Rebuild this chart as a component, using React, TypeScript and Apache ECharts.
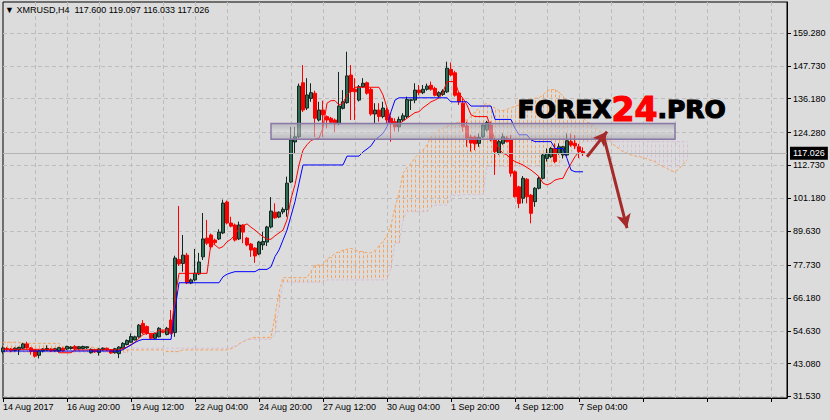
import React, { useEffect, useRef } from 'react';
import * as echarts from 'echarts';

const xTickLabels = ['14 Aug 2017', '16 Aug 20:00', '19 Aug 12:00', '22 Aug 04:00', '24 Aug 20:00', '27 Aug 12:00', '30 Aug 04:00', '1 Sep 20:00', '4 Sep 12:00', '7 Sep 04:00'];
const yTickValues = [31.53, 43.08, 54.63, 66.18, 77.73, 89.63, 101.18, 112.73, 124.28, 136.18, 147.73, 159.28];
const titleText = '\u25BC XMRUSD,H4  117.600 119.097 116.033 117.026';
const lastPrice = 117.026;

// [open, close, low, high]
const candles: number[][] = [
  [47.2, 48.6, 46.5, 49.2], [48.4, 48.0, 47.4, 48.9], [48.2, 47.6, 47.1, 48.6], [47.7, 48.5, 47.3, 48.8], [47.9, 48.8, 46.1, 49.0],
  [48.5, 50.0, 48.2, 50.4], [50.0, 48.6, 48.3, 50.8], [48.6, 47.4, 46.2, 48.9], [47.9, 45.7, 45.2, 48.2], [46.0, 47.6, 44.9, 48.0],
  [47.5, 48.2, 47.0, 48.5], [47.8, 48.4, 47.5, 49.5], [48.2, 47.5, 47.2, 48.5], [47.6, 48.3, 47.3, 48.6], [47.5, 48.7, 47.2, 49.0],
  [48.5, 47.6, 47.3, 48.8], [48.2, 49.1, 47.9, 49.4], [48.4, 48.9, 48.0, 49.2], [49.1, 48.2, 47.8, 49.6], [48.3, 49.0, 48.0, 49.3],
  [48.4, 49.1, 48.1, 49.4], [48.6, 49.0, 48.3, 49.2], [46.9, 48.1, 46.6, 48.4], [48.0, 47.2, 46.9, 48.3], [47.0, 48.2, 45.9, 48.5],
  [48.0, 48.5, 47.6, 48.8], [48.5, 47.9, 47.5, 48.7], [48.0, 46.8, 46.5, 48.2], [46.9, 48.3, 46.6, 48.6], [46.6, 48.9, 45.0, 49.2],
  [48.5, 50.2, 48.2, 50.6], [49.8, 51.2, 49.5, 51.6], [50.6, 52.6, 50.4, 53.7], [51.4, 52.5, 51.2, 52.9], [52.5, 56.6, 52.2, 57.0],
  [57.2, 53.9, 53.5, 58.4], [56.1, 53.7, 53.2, 56.5], [53.4, 52.0, 51.7, 53.7], [52.0, 53.7, 51.8, 54.0], [52.5, 55.5, 52.3, 55.9],
  [54.5, 54.1, 53.8, 54.8], [53.3, 55.5, 53.0, 56.0], [58.4, 53.7, 53.3, 61.9], [54.0, 80.2, 52.5, 81.0], [79.7, 78.1, 77.4, 98.5],
  [78.3, 81.2, 75.4, 88.3], [81.2, 71.4, 71.0, 82.0], [71.4, 72.5, 71.0, 73.0], [72.5, 74.9, 72.0, 83.4], [74.6, 78.8, 74.2, 82.0],
  [80.6, 86.9, 79.5, 96.0], [87.2, 85.4, 84.8, 93.6], [88.3, 84.1, 83.3, 88.8], [86.5, 85.6, 85.0, 87.0], [86.9, 89.3, 86.5, 90.3],
  [89.0, 99.5, 88.6, 100.7], [99.9, 92.5, 92.0, 100.4], [92.5, 91.4, 91.0, 94.7], [91.8, 86.5, 86.0, 92.3], [86.9, 91.8, 86.5, 93.0],
  [91.8, 89.3, 85.4, 92.1], [87.2, 84.8, 84.3, 87.6], [85.1, 83.0, 80.6, 85.5], [83.7, 80.9, 78.5, 84.0], [81.6, 85.8, 81.2, 86.2],
  [84.8, 86.0, 83.0, 89.4], [85.8, 91.1, 84.4, 91.5], [91.1, 96.7, 90.6, 101.6], [96.3, 94.3, 94.0, 99.4], [94.6, 96.3, 94.2, 96.6],
  [96.4, 97.3, 95.6, 98.0], [97.2, 106.5, 94.7, 108.8], [106.9, 121.7, 106.5, 126.3], [121.0, 122.8, 116.9, 126.3], [122.8, 140.6, 122.3, 141.5],
  [141.8, 132.2, 131.5, 148.0], [132.9, 137.5, 132.2, 143.4], [136.3, 138.3, 135.1, 141.6], [138.1, 129.3, 122.8, 139.0], [128.7, 132.2, 128.2, 135.1],
  [132.2, 130.5, 122.8, 135.5], [129.9, 128.7, 125.8, 130.3], [129.3, 127.9, 127.5, 129.8], [128.7, 127.3, 124.5, 129.2], [127.4, 133.6, 126.9, 145.6],
  [132.8, 135.1, 132.4, 139.2], [134.8, 144.2, 134.4, 152.7], [144.5, 138.7, 128.7, 148.0], [139.5, 138.6, 128.7, 143.4], [135.7, 140.4, 135.2, 141.0],
  [140.4, 141.6, 140.0, 143.4], [141.8, 138.1, 137.6, 142.2], [139.5, 130.8, 130.2, 140.0], [130.8, 132.2, 127.5, 134.6], [132.2, 129.9, 128.1, 134.6],
  [129.9, 132.9, 129.3, 135.1], [132.2, 128.7, 127.5, 133.0], [129.3, 127.6, 121.1, 129.9], [128.1, 126.3, 124.6, 129.3], [126.3, 128.9, 124.6, 129.9],
  [128.7, 130.2, 128.1, 131.1], [129.9, 135.9, 129.3, 136.9], [135.6, 135.8, 132.2, 135.9], [135.7, 139.2, 134.6, 141.6], [139.2, 138.3, 137.4, 141.0],
  [138.3, 139.5, 137.8, 141.0], [139.5, 140.6, 139.0, 141.5], [140.9, 139.5, 139.0, 142.2], [139.8, 137.4, 137.0, 140.4], [137.1, 138.3, 136.6, 138.8],
  [137.7, 138.9, 137.2, 139.5], [138.6, 146.9, 138.2, 149.2], [146.5, 144.5, 144.0, 148.9], [145.3, 137.4, 136.9, 146.0], [138.2, 135.1, 134.0, 138.6],
  [134.6, 126.3, 124.6, 136.3], [126.6, 122.4, 119.3, 128.1], [122.7, 120.6, 117.6, 123.5], [122.7, 120.3, 118.1, 123.2], [120.5, 122.6, 119.3, 124.0],
  [122.8, 126.9, 122.3, 127.5], [125.2, 127.8, 124.6, 128.4], [126.9, 121.7, 121.2, 128.1], [121.7, 117.6, 109.4, 122.3], [117.0, 121.1, 116.5, 121.7],
  [120.5, 122.8, 120.0, 124.0], [122.3, 121.1, 120.8, 123.0], [121.7, 110.0, 108.8, 123.4], [110.5, 101.7, 101.5, 111.0], [105.2, 99.4, 97.7, 105.6],
  [101.2, 108.2, 99.4, 109.0], [107.9, 101.7, 99.4, 108.3], [102.3, 95.9, 92.4, 102.7], [100.0, 104.7, 98.2, 105.1], [104.7, 108.2, 104.3, 108.8],
  [108.2, 116.4, 107.8, 117.0], [115.2, 117.0, 114.1, 118.7], [115.8, 118.7, 115.3, 119.2], [118.7, 114.1, 113.5, 120.5], [117.0, 119.3, 116.5, 120.5],
  [116.4, 119.3, 115.2, 119.6], [116.4, 121.4, 115.9, 124.0], [121.1, 119.9, 119.3, 124.0], [120.5, 119.6, 118.5, 123.4], [119.3, 117.6, 115.3, 120.3],
  [117.6, 117.026, 116.033, 119.097],
];

const tenkan = [
  48.1, 48.1, 48.1, 48.1, 48.1, 48.1, 48.1, 48.1, 48.1, 48.1,
  48.1, 48.1, 48.1, 48.1, 46.9, 46.9, 46.9, 46.9, 47.9, 47.9,
  47.9, 47.9, 47.9, 47.9, 47.9, 47.9, 47.9, 47.9, 47.9, 47.9,
  48.4, 48.9, 49.8, 50.6, 52.0, 53.3, 53.7, 53.7, 53.7, 54.9,
  54.9, 54.9, 54.9, 66.0, 74.8, 74.8, 74.8, 74.8, 74.8, 74.8,
  74.8, 74.8, 85.5, 84.8, 83.6, 84.2, 85.9, 86.8, 88.3, 90.6,
  91.5, 92.2, 91.0, 90.0, 88.8, 87.7, 86.8, 86.8, 88.0, 89.0,
  90.0, 93.6, 101.0, 106.0, 112.9, 118.1, 120.0, 121.5, 122.0, 122.3,
  126.0, 134.6, 135.5, 135.5, 134.0, 134.6, 137.5, 139.0, 140.2, 140.2,
  140.2, 140.2, 140.2, 140.2, 140.2, 137.5, 133.0, 129.0, 127.5, 127.3,
  128.3, 129.3, 130.3, 131.3, 131.6, 133.0, 134.0, 135.1, 135.7, 136.5,
  138.5, 142.2, 142.2, 142.2, 138.0, 136.3, 134.0, 130.5, 129.9, 129.9,
  129.9, 129.9, 126.0, 121.5, 118.5, 117.0, 116.4, 115.0, 114.1, 113.5,
  112.9, 112.0, 111.1, 110.0, 108.8, 106.5, 105.9, 106.5, 107.6, 108.0,
  108.2, 111.1, 113.4, 115.8, 117.6, 118.0,
];

const kijun = [
  47.5, 47.5, 47.5, 47.5, 47.5, 47.5, 47.5, 47.5, 47.5, 47.5,
  47.5, 47.5, 47.5, 47.5, 47.5, 47.5, 47.5, 47.5, 47.5, 47.5,
  47.5, 47.5, 47.5, 47.5, 47.5, 47.5, 47.5, 47.5, 47.5, 47.5,
  48.0, 48.8, 49.6, 50.5, 51.2, 51.6, 51.6, 51.6, 51.6, 51.6,
  51.6, 51.6, 51.6, 62.0, 71.5, 71.5, 71.5, 71.5, 71.5, 71.5,
  71.5, 71.5, 71.5, 71.5, 71.5, 73.6, 74.5, 75.0, 75.4, 75.4,
  75.4, 75.4, 75.4, 75.4, 76.2, 76.2, 76.2, 77.1, 80.7, 83.0,
  86.5, 90.0, 95.0, 100.0, 106.5, 112.9, 112.9, 112.9, 112.9, 112.9,
  112.9, 112.9, 112.9, 112.9, 112.9, 112.9, 116.0, 116.0, 116.0, 116.0,
  117.5, 118.5, 119.6, 121.7, 122.8, 124.0, 126.3, 131.6, 135.7, 136.5,
  136.5, 136.5, 136.5, 136.5, 136.5, 136.5, 136.5, 136.5, 136.5, 136.5,
  136.5, 136.5, 135.1, 135.1, 135.1, 135.1, 135.1, 133.6, 133.6, 133.6,
  133.6, 133.6, 133.6, 128.9, 128.9, 128.9, 128.9, 128.9, 125.8, 123.5,
  123.5, 123.5, 121.7, 121.1, 121.1, 121.1, 121.1, 121.1, 118.7, 118.7,
  118.7, 115.2, 111.1, 110.5, 110.5, 110.5,
];

const spanA = [
  50.6, 50.6, 50.6, 50.6, 50.6, 50.2, 50.2, 50.2, 50.2, 50.2,
  50.2, 50.2, 50.2, 50.2, 50.2, 49.0, 49.0, 49.0, 49.0, 49.0,
  49.0, 49.0, 49.0, 48.5, 48.5, 48.5, 48.5, 47.9, 47.9, 47.9,
  47.9, 47.9, 47.9, 47.9, 47.9, 47.9, 47.9, 47.9, 47.9, 47.9,
  47.9, 47.3, 47.3, 47.3, 47.3, 47.9, 47.9, 47.9, 47.9, 47.9,
  47.9, 47.9, 47.9, 47.9, 47.9, 47.9, 47.9, 48.3, 49.0, 50.0,
  50.8, 51.4, 52.0, 52.3, 52.3, 52.3, 52.3, 52.3, 60.0, 68.0,
  73.3, 73.3, 73.3, 73.3, 73.3, 73.3, 73.3, 75.5, 77.7, 77.7,
  77.7, 80.0, 80.5, 81.9, 82.3, 83.0, 83.3, 83.6, 83.0, 82.5,
  82.5, 82.0, 82.0, 82.8, 84.5, 86.0, 88.0, 91.8, 98.0, 103.0,
  110.0, 112.0, 113.4, 115.5, 117.0, 118.1, 120.0, 122.8, 124.0, 125.2,
  125.8, 126.5, 127.0, 127.5, 128.0, 128.5, 128.7, 130.0, 131.6, 132.8,
  134.0, 134.5, 133.5, 133.0, 132.0, 132.0, 132.5, 133.0, 133.5, 134.0,
  134.5, 135.5, 136.0, 136.3, 136.5, 137.5, 139.0, 139.4, 139.4, 138.5,
  137.0, 135.0, 133.0, 131.0, 130.0, 129.5, 128.0, 127.5, 126.0, 125.0,
  124.6, 123.0, 121.0, 119.5, 118.7, 117.5, 117.0, 116.4, 116.0, 115.8,
  115.5, 115.0, 114.5, 114.1, 113.0, 112.3, 111.7, 110.8, 110.5, 111.5,
  113.0, 114.7,
];

const spanB = [
  47.0, 47.0, 47.0, 47.0, 47.0, 47.0, 47.0, 47.0, 47.0, 47.0,
  47.0, 47.0, 47.0, 47.0, 47.0, 47.0, 47.0, 47.0, 47.0, 47.0,
  47.0, 47.0, 47.0, 47.0, 47.0, 47.0, 47.0, 47.0, 47.0, 47.0,
  47.0, 47.0, 48.5, 48.5, 48.5, 48.5, 48.5, 48.5, 48.5, 48.5,
  48.5, 48.5, 48.5, 48.5, 48.5, 48.5, 48.5, 48.5, 48.5, 48.5,
  48.5, 48.5, 48.5, 48.5, 48.5, 48.5, 48.5, 48.8, 49.3, 49.6,
  50.9, 51.6, 51.6, 51.6, 51.6, 51.6, 51.6, 51.6, 53.4, 63.0,
  71.7, 71.7, 71.7, 71.7, 71.7, 71.7, 71.7, 71.7, 71.7, 71.7,
  71.7, 72.5, 72.5, 72.5, 72.5, 72.5, 72.5, 72.5, 72.5, 72.5,
  72.5, 72.5, 72.5, 72.5, 72.5, 72.5, 72.5, 76.5, 85.5, 85.5,
  93.2, 96.5, 96.5, 96.5, 96.5, 96.5, 96.5, 98.0, 98.8, 98.8,
  98.8, 98.8, 102.2, 102.2, 102.2, 102.5, 102.5, 102.5, 102.5, 102.5,
  102.5, 112.3, 112.3, 112.3, 112.3, 112.3, 112.3, 112.3, 112.3, 112.3,
  112.3, 112.3, 112.3, 112.3, 112.3, 112.3, 112.3, 112.3, 112.3, 112.3,
  115.6, 117.0, 117.4, 118.5, 120.0, 121.0, 121.1, 121.1, 121.1, 121.1,
  121.1, 121.1, 121.1, 121.1, 121.1, 121.1, 121.1, 121.1, 121.1, 121.1,
  121.1, 121.1, 121.1, 121.1, 121.1, 121.1, 121.1, 121.1, 121.1, 121.1,
  121.1, 121.1,
];

// annotations in data units: [barIndex, price]
const zoneBox = [[67, 127.5], [168, 121.9]];
const arrows = [
  [[146, 115.8], [151, 124.6]],
  [[150, 123.8], [156, 90.7]],
];

const BAR_SLOTS = 197;
const categories = Array.from({ length: BAR_SLOTS }, (_, i) => String(i));
const FONT = 'Liberation Sans';

export default function App() {
  const ref = useRef<HTMLDivElement>(null);
  useEffect(() => {
    if (!ref.current) return;
    const chart = echarts.init(ref.current, undefined, { renderer: 'svg' });
    const option: any = {
      animation: false,
      backgroundColor: '#dcdcdc',
      textStyle: { fontFamily: FONT },
      title: {
        text: titleText,
        left: 5,
        top: 5,
        padding: 0,
        textStyle: { fontSize: 9, fontWeight: 'normal', color: '#000', fontFamily: FONT },
      },
      grid: {
        left: 3, right: 43, top: 2, bottom: 22,
        show: true, borderColor: '#000', borderWidth: 1, backgroundColor: '#dcdcdc',
      },
      xAxis: {
        type: 'category',
        data: categories,
        boundaryGap: false,
        axisLine: { lineStyle: { color: '#000', width: 1 } },
        axisTick: { show: true, interval: (i: number) => i % 16 === 0, length: 4, lineStyle: { color: '#000' } },
        axisLabel: {
          interval: (i: number) => i % 16 === 0 && i / 16 < xTickLabels.length,
          formatter: (_v: string, i: number) => xTickLabels[i / 16] ?? '',
          align: 'left', fontSize: 9, color: '#000', margin: 4, fontFamily: FONT,
        },
        splitLine: {
          show: true,
          interval: (i: number) => i % 8 === 0 && i > 0,
          lineStyle: { color: '#bdbdbd', type: [4, 3], width: 1 },
        },
      },
      yAxis: {
        type: 'value',
        position: 'right',
        min: 31.0,
        max: 170.17,
        axisLine: { show: true, lineStyle: { color: '#000' } },
        axisTick: { show: true, customValues: yTickValues, length: 4, lineStyle: { color: '#000' } },
        axisLabel: {
          customValues: yTickValues, formatter: (v: number) => v.toFixed(3),
          showMinLabel: true, showMaxLabel: true, hideOverlap: false,
          fontSize: 9, color: '#000', margin: 6, fontFamily: FONT,
        },
        splitLine: { show: true, lineStyle: { color: '#bdbdbd', type: [4, 3], width: 1 } },
      },
      graphic: [
        {
          type: 'text',
          left: 517,
          top: 92,
          z: 100,
          style: {
            text: '{a|FOREX}{b|24}{a|.PRO}',
            rich: {
              a: { fontSize: 25, fontWeight: 'bold', fontFamily: 'DejaVu Sans', fill: '#000', stroke: '#000', lineWidth: 1.2 },
              b: { fontSize: 33, fontWeight: 'bold', fontFamily: 'DejaVu Sans', fill: '#ff0000', stroke: '#ff0000', lineWidth: 1.2 },
            },
          },
        },
      ],
      series: [
        {
          type: 'custom',
          name: 'cloud',
          z: 1,
          silent: true,
          clip: true,
          data: spanA.map((a, i) => [i, a, spanB[i]]),
          encode: { x: 0, y: [1, 2] },
          renderItem: (_p: any, api: any) => {
            const i = api.value(0);
            const a = api.value(1);
            const b = api.value(2);
            const p1 = api.coord([i, a]);
            const p2 = api.coord([i, b]);
            const x = Math.round(p1[0]) + 0.5;
            const top = Math.min(p1[1], p2[1]);
            const bot = Math.max(p1[1], p2[1]);
            return {
              type: 'line',
              shape: { x1: x, y1: top, x2: x, y2: bot },
              style: { stroke: a >= b ? '#F4A460' : '#D8BFD8', lineWidth: 1, lineDash: [3, 2], lineDashOffset: top % 5 },
            };
          },
        },
        {
          type: 'line', name: 'spanA', data: spanA, symbol: 'none', z: 2, silent: true,
          lineStyle: { color: '#F4A460', width: 1, type: [3, 2] },
        },
        {
          type: 'line', name: 'spanB', data: spanB, symbol: 'none', z: 2, silent: true,
          lineStyle: { color: '#D8BFD8', width: 1, type: [3, 2] },
        },
        {
          type: 'candlestick',
          name: 'XMRUSD',
          data: candles,
          barWidth: 3,
          z: 3,
          itemStyle: { color: '#2F6A55', color0: '#FF0000', borderColor: '#12281F', borderColor0: '#FF0000', borderWidth: 1 },
          markLine: {
            silent: true,
            symbol: ['none', 'none'],
            data: [{ yAxis: lastPrice }],
            lineStyle: { color: '#b4b4b4', width: 1, type: 'solid' },
            label: {
              show: true, position: 'end', distance: 3,
              formatter: () => lastPrice.toFixed(3),
              backgroundColor: '#000', color: '#fff', fontSize: 9, padding: [2, 3], fontFamily: FONT,
            },
          },
        },
        {
          type: 'line', name: 'tenkan', data: tenkan, symbol: 'none', z: 4, silent: true,
          lineStyle: { color: '#FF0000', width: 1 },
          markArea: {
            silent: true,
            z: 10,
            itemStyle: {
              color: {
                type: 'linear', x: 0, y: 0, x2: 0, y2: 1,
                colorStops: [
                  { offset: 0, color: 'rgba(160,160,170,0.6)' },
                  { offset: 0.5, color: 'rgba(210,210,214,0.55)' },
                  { offset: 1, color: 'rgba(160,160,170,0.6)' },
                ],
              },
              borderColor: '#8a78a6',
              borderWidth: 1.5,
            },
            data: [[{ coord: zoneBox[0] }, { coord: zoneBox[1] }]],
          },
        },
        {
          type: 'line', name: 'kijun', data: kijun, symbol: 'none', z: 4, silent: true,
          lineStyle: { color: '#0000FF', width: 1 },
          markLine: {
            silent: true,
            z: 12,
            symbol: ['none', 'arrow'],
            symbolSize: [11, 14],
            lineStyle: { color: '#A52A2A', width: 3, type: 'solid' },
            label: { show: false },
            data: arrows.map(([s, e]) => [{ coord: s }, { coord: e }]),
          },
        },
      ],
    };
    chart.setOption(option);
    return () => chart.dispose();
  }, []);
  return (
    <div
      ref={ref}
      style={{ position: 'fixed', left: 0, top: 0, width: 830, height: 420, background: '#dcdcdc' }}
    />
  );
}
